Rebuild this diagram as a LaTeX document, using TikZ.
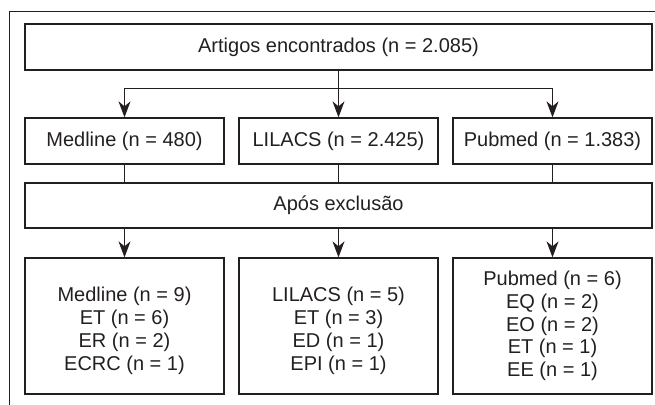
\documentclass[tikz,border=0pt]{standalone}
\usepackage{fontspec}
\setmainfont{Liberation Sans}
\usetikzlibrary{arrows.meta}
\definecolor{ink}{HTML}{231F20}
\tikzset{
  box/.style={draw=ink, line width=1.3pt, minimum width=199pt, minimum height=46pt, inner sep=0pt, align=center, font=\fontsize{20}{22.8}\selectfont, text=ink},
  widebox/.style={box, minimum width=627pt},
  conn/.style={draw=ink, line width=1pt},
  arr/.style={conn, -{Stealth[length=16pt, width=12pt, inset=5pt]}},
}
\begin{document}
\begin{tikzpicture}[x=1pt, y=-1pt]
\useasboundingbox (0,0) rectangle (655,404);
\coordinate (frameR) at (656,12);
\coordinate (frameTL) at (9,12);
\coordinate (frameB) at (9,405);
\draw[ink, line width=1pt] (frameR) -- (frameTL) -- (frameB);

\node[widebox] (top) at (338.5,47) {Artigos encontrados (n = 2.085)};
\node[box] (m1) at (124.5,141) {Medline (n = 480)};
\node[box] (l1) at (338.5,141) {LILACS (n = 2.425)};
\node[box] (p1) at (552.5,141) {Pubmed (n = 1.383)};
\node[widebox, minimum height=45pt] (apos) at (338.5,205.5) {Após exclusão};
\node[box, minimum height=136pt] (m2) at (124.5,326) {\rule{0pt}{24pt}Medline (n = 9)\\ET (n = 6)\\ER (n = 2)\\ECRC (n = 1)};
\node[box, minimum height=136pt] (l2) at (338.5,326) {\rule{0pt}{24pt}LILACS (n = 5)\\ET (n = 3)\\ED (n = 1)\\EPI (n = 1)};
\node[box, minimum height=136pt] (p2) at (552.5,326) {Pubmed (n = 6)\\EQ (n = 2)\\EO (n = 2)\\ET (n = 1)\\EE (n = 1)};

\coordinate (bm) at (124.5,88);
\coordinate (bp) at (552.5,88);
\draw[conn] (bm) -- (bp);
\draw[arr] (top.south) -- (l1.north);
\draw[arr] (bm) -- (m1.north);
\draw[arr] (bp) -- (p1.north);

\draw[conn] (m1.south) -- (apos.north -| m1.south);
\draw[conn] (l1.south) -- (apos.north -| l1.south);
\draw[conn] (p1.south) -- (apos.north -| p1.south);

\draw[arr] (apos.south -| m2.north) -- (m2.north);
\draw[arr] (apos.south -| l2.north) -- (l2.north);
\draw[arr] (apos.south -| p2.north) -- (p2.north);
\end{tikzpicture}
\end{document}
